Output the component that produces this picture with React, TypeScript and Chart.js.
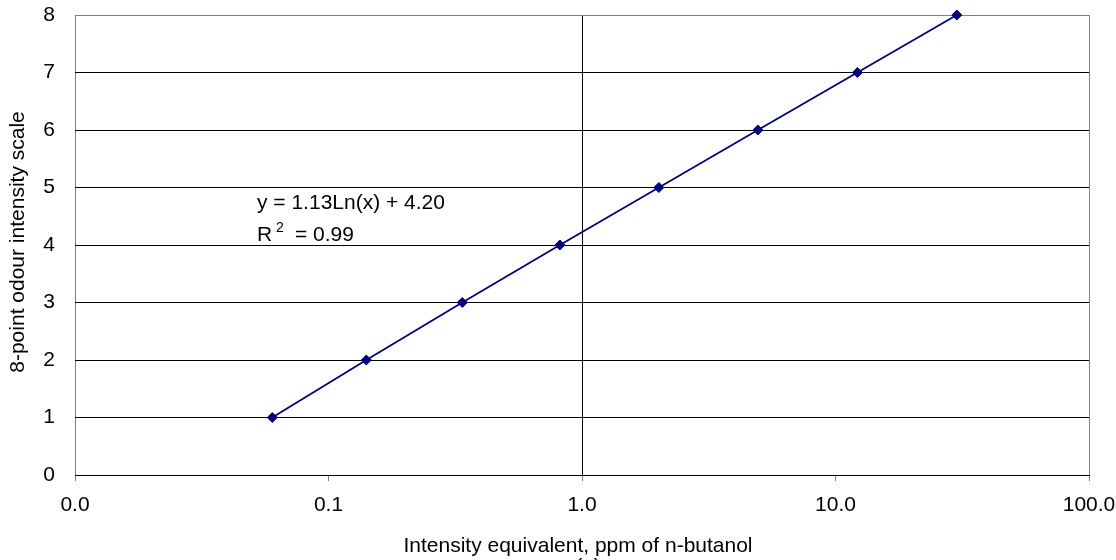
import React, { useEffect, useRef } from "react";
import { Chart, registerables } from "chart.js";

Chart.register(...registerables);

// Data
const intensityPpm = [0.06, 0.141, 0.337, 0.818, 2.01, 4.94, 12.2, 30.1];
const odourScale = [1, 2, 3, 4, 5, 6, 7, 8];
const xTickValues = [0.01, 0.1, 1, 10, 100];
const yTickValues = [0, 1, 2, 3, 4, 5, 6, 7, 8];
const xTitle = "Intensity equivalent, ppm of n-butanol";
const yTitle = "8-point odour intensity scale";
const equationLine = "y = 1.13Ln(x) + 4.20";
const r2Value = "= 0.99";
const panelLabel = "(a)";

const FONT = "'Liberation Sans', Arial, sans-serif";
const FS = 21;

const annotationPlugin = {
  id: "annot",
  afterDraw(chart: any) {
    const ctx = chart.ctx;
    ctx.save();
    ctx.fillStyle = "#000";
    ctx.textBaseline = "alphabetic";
    ctx.textAlign = "left";
    ctx.font = `${FS}px ${FONT}`;
    ctx.fillText(equationLine, 257, 209);
    ctx.fillText("R", 257, 241);
    ctx.fillText(r2Value, 295, 241);
    ctx.font = `14px ${FONT}`;
    ctx.fillText("2", 276, 232);
    // x axis title and panel label
    ctx.font = `${FS}px ${FONT}`;
    ctx.textAlign = "center";
    ctx.fillText(xTitle, 578, 552);
    ctx.fillText(panelLabel, 588, 573);
    // y axis title
    ctx.translate(24, 242);
    ctx.rotate(-Math.PI / 2);
    ctx.fillText(yTitle, 0, 0);
    ctx.restore();
  },
};

export default function App() {
  const ref = useRef<HTMLCanvasElement>(null);
  useEffect(() => {
    if (!ref.current) return;
    const chart = new Chart(ref.current, {
      type: "line",
      data: {
        datasets: [
          {
            data: intensityPpm.map((x, i) => ({ x, y: odourScale[i] })),
            borderColor: "#000080",
            backgroundColor: "#000080",
            borderWidth: 1.8,
            pointStyle: "rectRot",
            pointRadius: 5,
            pointHoverRadius: 5,
            pointBackgroundColor: "#000080",
            pointBorderColor: "#000080",
            pointBorderWidth: 1,
            tension: 0,
            clip: false as any,
          },
        ],
      },
      plugins: [annotationPlugin],
      options: {
        animation: false,
        responsive: false,
        maintainAspectRatio: false,
        layout: { padding: { left: 0, right: 27, top: 0, bottom: 0 } },
        plugins: { legend: { display: false }, tooltip: { enabled: false } },
        scales: {
          x: {
            type: "logarithmic",
            min: 0.01,
            max: 100,
            afterBuildTicks: (scale: any) => {
              scale.ticks = xTickValues.map((v) => ({ value: v, major: true }));
            },
            afterFit: (scale: any) => {
              scale.height = 85;
              scale.paddingLeft = 0;
              scale.paddingRight = 0;
            },
            ticks: {
              color: "#000",
              font: { family: FONT, size: FS },
              padding: 12,
              maxRotation: 0,
              autoSkip: false,
              callback: (v: any) => Number(v).toFixed(1),
            },
            grid: {
              color: (c: any) => {
                const v = c.tick && c.tick.value;
                if (v === 1) return "#000";
                if (v === 0.01 || v === 100) return "#808080";
                return "rgba(0,0,0,0)";
              },
              tickColor: "#808080",
              tickLength: 6,
              lineWidth: 1,
            },
            border: { display: true, color: "#000", width: 1 },
            title: { display: false },
          },
          y: {
            min: 0,
            max: 8,
            afterBuildTicks: (scale: any) => {
              scale.ticks = yTickValues.map((v) => ({ value: v }));
            },
            afterFit: (scale: any) => {
              scale.width = 75;
              scale.paddingTop = 15;
              scale.paddingBottom = 0;
            },
            ticks: {
              color: "#000",
              font: { family: FONT, size: FS },
              padding: 20,
            },
            grid: {
              color: (c: any) => (c.tick && c.tick.value === 8 ? "#808080" : "#000"),
              drawTicks: false,
              lineWidth: 1,
            },
            border: { display: false },
            title: { display: false },
          },
        },
      },
    });
    return () => chart.destroy();
  }, []);
  return (
    <div style={{ position: "fixed", left: 0, top: 0, width: 1116, height: 560, overflow: "hidden", background: "#fff" }}>
      <canvas ref={ref} width={1116} height={560} style={{ display: "block" }} />
    </div>
  );
}
